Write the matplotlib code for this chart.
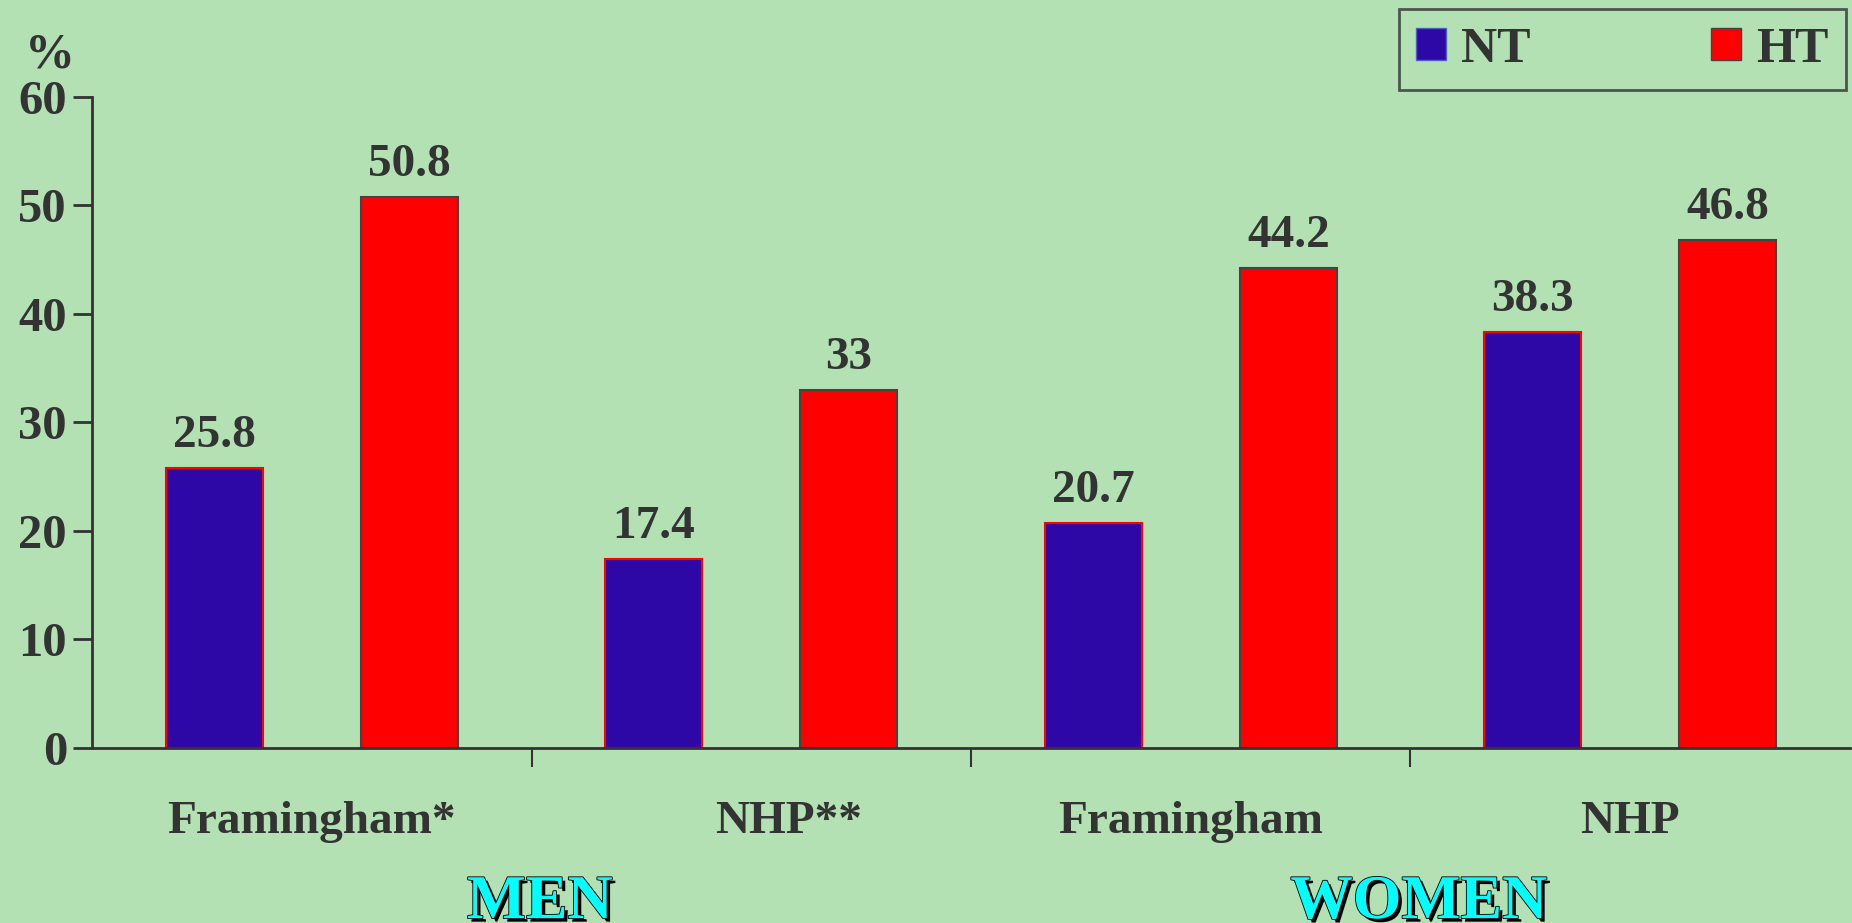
import numpy as np
import matplotlib
matplotlib.use('Agg')
import matplotlib.pyplot as plt
import matplotlib.patheffects as pe
from matplotlib.patches import Patch

categories = ['Framingham*', 'NHP**', 'Framingham', 'NHP']
nt_values = [25.8, 17.4, 20.7, 38.3]
ht_values = [50.8, 33, 44.2, 46.8]
nt_labels = ['25.8', '17.4', '20.7', '38.3']
ht_labels = ['50.8', '33', '44.2', '46.8']
groups = ['MEN', 'WOMEN']

bg = '#b3e1b4'
blue = '#2e08a6'
red = '#ff0000'
dark = '#333333'

plt.rcParams['font.family'] = ['Liberation Serif', 'DejaVu Serif']
plt.rcParams['font.weight'] = 'bold'

fig = plt.figure(figsize=(18.52, 9.23), dpi=100, facecolor=bg)
ax = fig.add_axes([0.0497, 0.1896, 0.9492, 0.7054])
ax.set_facecolor(bg)

x = np.arange(len(categories))
w = 0.22
off = 0.222
ax.bar(x - off, nt_values, w, color=blue, edgecolor=red, linewidth=1.5)
ax.bar(x + off, ht_values, w, color=red, edgecolor='#444444', linewidth=1.5)

for i in range(len(categories)):
    ax.text(x[i] - off, nt_values[i] + 1.95, nt_labels[i], ha='center', va='baseline',
            fontsize=34, fontweight='bold', color=dark)
    ax.text(x[i] + off, ht_values[i] + 1.95, ht_labels[i], ha='center', va='baseline',
            fontsize=34, fontweight='bold', color=dark)

ax.set_xlim(-0.5, len(categories) - 0.5)
ax.set_ylim(0, 60)
ax.set_yticks(np.arange(0, 61, 10))
ax.set_xticks(np.arange(0.5, len(categories) - 0.5, 1.0))
ax.set_xticklabels([])
ax.tick_params(axis='y', direction='out', length=14, width=2, colors=dark,
               labelsize=35, pad=4)
ax.tick_params(axis='x', direction='out', length=14, width=1.5, colors=dark)
for lab in ax.get_yticklabels():
    lab.set_fontweight('bold')
for s in ['top', 'right']:
    ax.spines[s].set_visible(False)
for s in ['left', 'bottom']:
    ax.spines[s].set_color(dark)
    ax.spines[s].set_linewidth(2)

# category names (NHP** sits a bit right of its slot in the original)
for i, c in enumerate(categories):
    shift = 0.084 if c == 'NHP**' else 0.0
    ax.text(x[i] + shift, -7.8, c, ha='center', va='baseline', fontsize=34,
            fontweight='bold', color=dark)

fig.text(0.027, 0.940, '%', ha='center', va='center', fontsize=36,
         fontweight='bold', color=dark)

shadow = [pe.withSimplePatchShadow(offset=(2.5, -2.5), shadow_rgbFace='black', alpha=1.0),
          pe.Stroke(linewidth=1.2, foreground='black'), pe.Normal()]
for g, cx in zip(groups, [0.519, 2.519]):
    ax.text(cx, -14.3, g, ha='center', va='center', fontsize=45, fontweight='bold',
            color='#00ffff', path_effects=shadow, clip_on=False)

handles = [Patch(facecolor=blue, edgecolor='#5060c0'),
           Patch(facecolor=red, edgecolor='#444444')]
leg = fig.legend(handles, ['NT', 'HT'], loc='upper right', bbox_to_anchor=(0.9965, 0.990),
                 ncol=2, fontsize=36, frameon=True, fancybox=False, columnspacing=3.6,
                 handlelength=0.6, handleheight=0.6, handletextpad=0.3, borderpad=0.35,
                 borderaxespad=0)
leg.get_frame().set_facecolor(bg)
leg.get_frame().set_edgecolor(dark)
leg.get_frame().set_linewidth(2)
for t in leg.get_texts():
    t.set_color(dark)
    t.set_fontweight('bold')

fig.savefig('out.png', dpi=100, facecolor=bg)
